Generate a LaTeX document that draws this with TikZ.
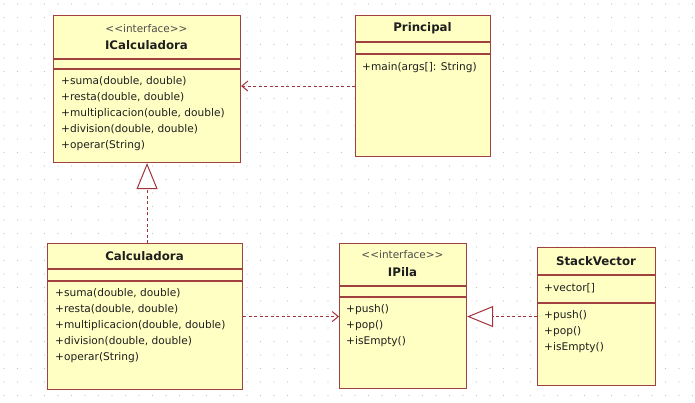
\documentclass[tikz,border=0pt]{standalone}
\usepackage{fontspec}
\setmainfont{DejaVu Sans}
\usetikzlibrary{arrows.meta}
\definecolor{boxfill}{RGB}{255,255,196}
\definecolor{boxline}{RGB}{160,64,64}
\definecolor{arrowc}{RGB}{160,50,60}
\definecolor{gridc}{RGB}{195,195,195}
\definecolor{txt}{RGB}{30,30,30}
\newcommand{\stereotxt}{<\kern0pt<\kern0pt interface\kern0pt>\kern0pt>}
\tikzset{
  classbox/.style={draw=boxline, fill=boxfill, line width=1.1pt, anchor=north west, inner sep=0pt},
  sepline/.style={draw=boxline, line width=1.1pt},
  ctitle/.style={font=\fontsize{11.8}{13}\selectfont\bfseries, text=txt, inner sep=0pt},
  stereo/.style={font=\fontsize{10.5}{12}\selectfont, text=txt!80, inner sep=0pt},
  member/.style={font=\fontsize{10.6}{12}\selectfont, text=txt, anchor=west, inner sep=0pt, text height=8pt, text depth=2.5pt},
  dep/.style={draw=arrowc, line width=0.9pt, dash pattern=on 3pt off 2.5pt, -{Straight Barb[length=6pt,width=10pt,line width=1pt]}},
  real/.style={draw=arrowc, line width=0.9pt, dash pattern=on 3pt off 2.5pt, -{Triangle[open,length=26pt,width=21pt,line width=1pt,fill=white]}}
}
\begin{document}
\begin{tikzpicture}[x=1pt,y=-1pt]
\useasboundingbox (0,0) rectangle (695,403);
\fill[white] (0,0) rectangle (695,403);
\foreach \i in {0,...,51}{\foreach \j in {0,...,29}{\fill[gridc] (4+13.5*\i,4+13.5*\j) circle (0.7pt);}}

% ICalculadora
\node[classbox, minimum width=187pt, minimum height=147pt] (icalc) at (53,15) {};
\draw[sepline] (53,59) -- (240,59);
\draw[sepline] (53,69) -- (240,69);
\node[stereo] (icalc-st) at (146.5,29) {\stereotxt};
\node[ctitle] (icalc-t) at (146.5,45) {ICalculadora};
\node[member] (icalc-m1) at (61,82) {+suma(double, double)};
\node[member] (icalc-m2) at (61,98) {+resta(double, double)};
\node[member] (icalc-m3) at (61,114) {+multiplicacion(ouble, double)};
\node[member] (icalc-m4) at (61,130) {+division(double, double)};
\node[member] (icalc-m5) at (61,146) {+operar(String)};

% Principal
\node[classbox, minimum width=135pt, minimum height=141pt] (princ) at (355,15) {};
\draw[sepline] (355,42) -- (490,42);
\draw[sepline] (355,54) -- (490,54);
\node[ctitle] (princ-t) at (422.5,28) {Principal};
\node[member] (princ-m1) at (362,68) {+main(args[]: String)};

% Calculadora
\node[classbox, minimum width=195pt, minimum height=146pt] (calc) at (47,243) {};
\draw[sepline] (47,269) -- (242,269);
\draw[sepline] (47,281) -- (242,281);
\node[ctitle] (calc-t) at (144.5,256) {Calculadora};
\node[member] (calc-m1) at (55,294) {+suma(double, double)};
\node[member] (calc-m2) at (55,310) {+resta(double, double)};
\node[member] (calc-m3) at (55,326) {+multiplicacion(double, double)};
\node[member] (calc-m4) at (55,342) {+division(double, double)};
\node[member] (calc-m5) at (55,358) {+operar(String)};

% IPila
\node[classbox, minimum width=127pt, minimum height=145pt] (ipila) at (339,243) {};
\draw[sepline] (339,286) -- (466,286);
\draw[sepline] (339,297) -- (466,297);
\node[stereo] (ipila-st) at (402.5,255) {\stereotxt};
\node[ctitle] (ipila-t) at (402.5,272) {IPila};
\node[member] (ipila-m1) at (346,310) {+push()};
\node[member] (ipila-m2) at (346,326) {+pop()};
\node[member] (ipila-m3) at (346,342) {+isEmpty()};

% StackVector
\node[classbox, minimum width=118pt, minimum height=138pt] (stack) at (537,247) {};
\draw[sepline] (537,275) -- (655,275);
\draw[sepline] (537,303) -- (655,303);
\node[ctitle] (stack-t) at (596,261) {StackVector};
\node[member] (stack-a1) at (544,289) {+vector[]};
\node[member] (stack-m1) at (544,316) {+push()};
\node[member] (stack-m2) at (544,332) {+pop()};
\node[member] (stack-m3) at (544,348) {+isEmpty()};

% connectors
\draw[dep] (princ.west) -- (princ.west -| icalc.east);
\draw[real] (icalc.south |- calc.north) -- (icalc.south);
\draw[dep] (calc.east) -- (calc.east -| ipila.west);
\draw[real] (stack.west) -- (stack.west -| ipila.east);
\end{tikzpicture}
\end{document}
